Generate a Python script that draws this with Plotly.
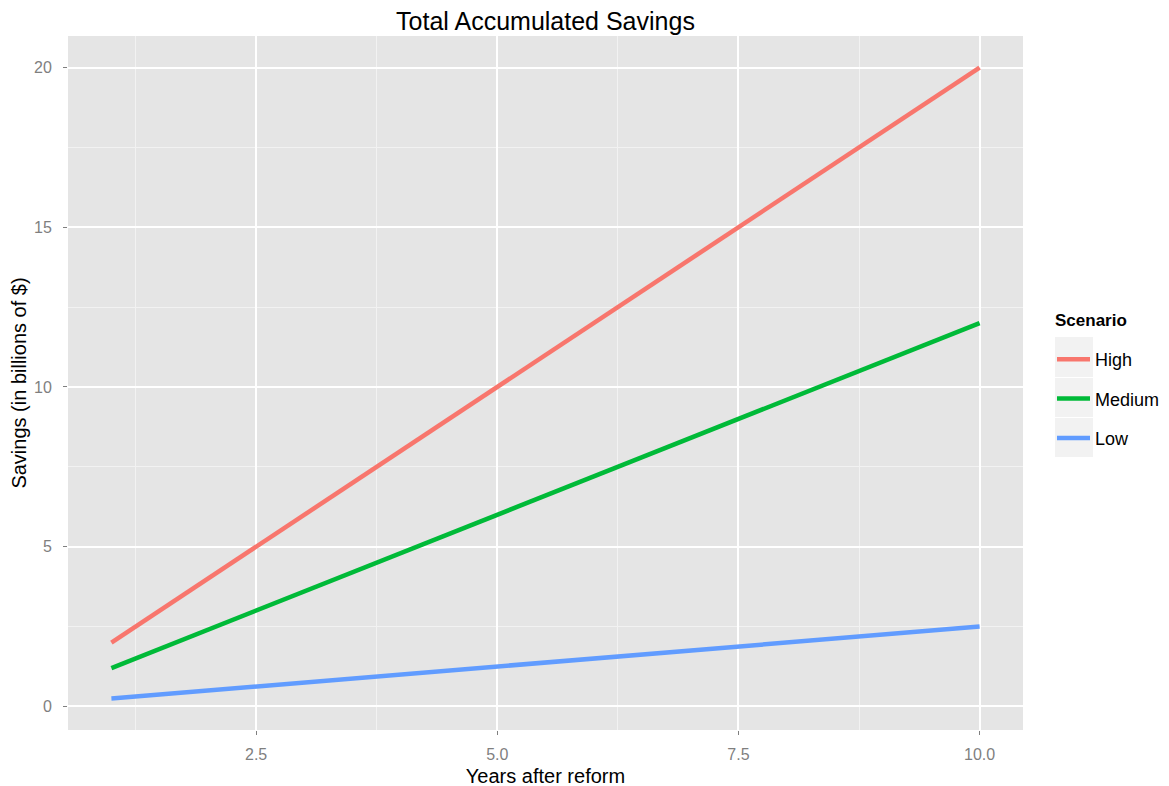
import plotly.graph_objects as go

years = [1, 2, 3, 4, 5, 6, 7, 8, 9, 10]
high = [2, 4, 6, 8, 10, 12, 14, 16, 18, 20]
medium = [1.2, 2.4, 3.6, 4.8, 6.0, 7.2, 8.4, 9.6, 10.8, 12.0]
low = [0.25, 0.5, 0.75, 1.0, 1.25, 1.5, 1.75, 2.0, 2.25, 2.5]
series_names = ["High", "Medium", "Low"]
colors = ["#F8766D", "#00BA38", "#619CFF"]
legend_title = "Scenario"

fig = go.Figure()
for name, vals, col in zip(series_names, [high, medium, low], colors):
    fig.add_trace(go.Scatter(x=years, y=vals, mode="lines", name=name,
                             legendgroup=name,
                             line=dict(color=col, width=4.5)))

OFF = 8  # body margin of the page
W, H = 1169, 786
# plot area in page pixels: x 68..1023, y 36..730
L, T = 68 - OFF, 36 - OFF
pw, ph = 955, 694
R, B = W - L - pw, H - T - ph

def px_x(page_px):
    return (page_px - OFF - L) / pw

def px_y(page_py):
    return (T + ph - (page_py - OFF)) / ph

# legend key backgrounds (ggplot style)
for top, bot in [(337, 377), (378, 417), (418, 457)]:
    fig.add_shape(type="rect", xref="paper", yref="paper",
                  x0=px_x(1055), x1=px_x(1093),
                  y0=px_y(bot), y1=px_y(top),
                  fillcolor="#F2F2F2", line=dict(width=0), layer="below")

# legend title (ggplot places it further above the keys than plotly does)
fig.add_annotation(text="<b>" + legend_title + "</b>", xref="paper", yref="paper",
                   x=px_x(1053), y=px_y(320), xanchor="left", yanchor="middle",
                   showarrow=False, font=dict(size=17, color="black"))

fig.update_layout(
    width=W, height=H,
    margin=dict(l=L, r=R, t=T, b=B),
    paper_bgcolor="white",
    plot_bgcolor="#E5E5E5",
    font=dict(family="Liberation Sans, Arial, sans-serif", color="black"),
    title=dict(text="Total Accumulated Savings",
               x=(545.5 - OFF) / W, xanchor="center",
               y=1 - (21 - OFF) / H, yanchor="middle",
               font=dict(size=25, color="black")),
    legend=dict(font=dict(size=18), x=px_x(1052), xanchor="left",
                y=px_y(341), yanchor="top", bgcolor="rgba(0,0,0,0)",
                tracegroupgap=13, itemwidth=33),
    xaxis=dict(range=[0.55, 10.45], tick0=0, dtick=2.5, tickformat=".1f",
               automargin=False,
               showgrid=True, gridcolor="white", gridwidth=1.8, zeroline=False,
               ticks="outside", ticklen=4, tickcolor="#7F7F7F",
               tickfont=dict(size=16, color="#7F7F7F"), ticklabelstandoff=6,
               minor=dict(dtick=1.25, tick0=0, showgrid=True, gridcolor="#F2F2F2", gridwidth=0.9),
               title=dict(text="Years after reform", font=dict(size=20), standoff=6)),
    yaxis=dict(range=[-0.7375, 20.9875], tick0=0, dtick=5,
               automargin=False,
               showgrid=True, gridcolor="white", gridwidth=1.8, zeroline=False,
               ticks="outside", ticklen=4, tickcolor="#7F7F7F",
               tickfont=dict(size=16, color="#7F7F7F"), ticklabelstandoff=8,
               minor=dict(dtick=2.5, tick0=0, showgrid=True, gridcolor="#F2F2F2", gridwidth=0.9),
               title=dict(text="Savings (in billions of $)", font=dict(size=20), standoff=9)),
)

fig.write_html("out.html")
